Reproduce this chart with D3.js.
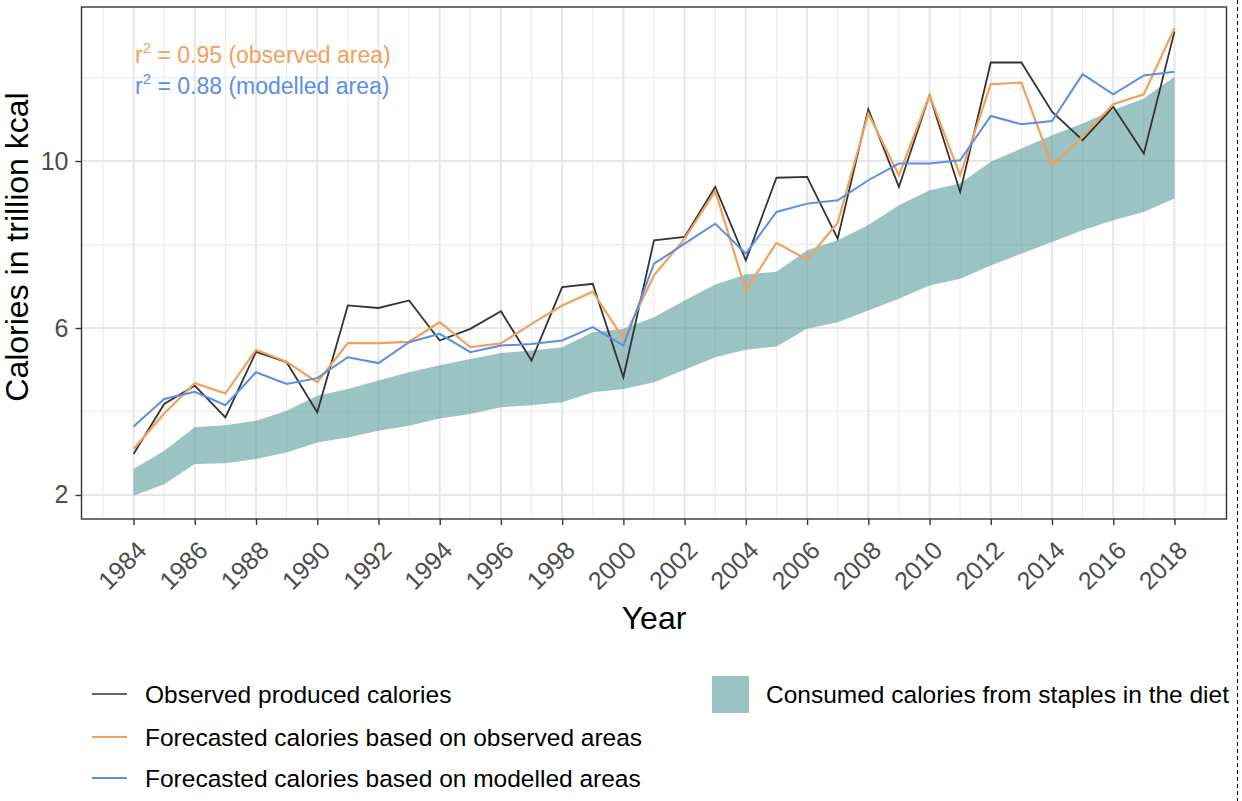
<!DOCTYPE html>
<html>
<head>
<meta charset="utf-8">
<script src="https://cdn.jsdelivr.net/npm/d3@7"></script>
<style>
  html, body { margin: 0; padding: 0; background: #fff; }
  svg { display: block; font-family: "Liberation Sans", Arial, sans-serif; }
</style>
</head>
<body>
<svg id="chart" width="1242" height="801"></svg>
<script>
// Annual calorie series, trillion kcal
const years = d3.range(1984, 2019);

const observed = [2.98, 4.18, 4.62, 3.86, 5.43, 5.18, 3.98, 6.54, 6.48, 6.66,
  5.70, 5.98, 6.40, 5.22, 6.98, 7.06, 4.82, 8.10, 8.18, 9.38,
  7.62, 9.60, 9.62, 8.14, 11.24, 9.38, 11.58, 9.26, 12.36, 12.36,
  11.18, 10.50, 11.30, 10.18, 13.10];

const forecastObserved = [3.10, 3.95, 4.68, 4.43, 5.48, 5.19, 4.70, 5.64, 5.64, 5.67,
  6.14, 5.54, 5.63, 6.10, 6.54, 6.87, 5.74, 7.26, 8.14, 9.28,
  6.90, 8.04, 7.64, 8.52, 11.14, 9.66, 11.58, 9.66, 11.84, 11.88,
  9.90, 10.58, 11.36, 11.60, 13.18];

const forecastModelled = [3.64, 4.30, 4.47, 4.15, 4.94, 4.66, 4.80, 5.30, 5.16, 5.66,
  5.86, 5.42, 5.58, 5.62, 5.70, 6.02, 5.58, 7.54, 8.02, 8.50,
  7.78, 8.78, 8.98, 9.06, 9.54, 9.94, 9.94, 10.02, 11.08, 10.88,
  10.96, 12.08, 11.60, 12.05, 12.14];

const consumedLow = [1.98, 2.26, 2.74, 2.76, 2.86, 3.02, 3.26, 3.38, 3.54, 3.66,
  3.83, 3.94, 4.10, 4.15, 4.22, 4.46, 4.54, 4.70, 5.00, 5.30,
  5.48, 5.56, 5.98, 6.14, 6.42, 6.70, 7.02, 7.18, 7.50, 7.78,
  8.06, 8.34, 8.58, 8.78, 9.10];

const consumedHigh = [2.62, 3.06, 3.62, 3.67, 3.78, 4.02, 4.38, 4.54, 4.74, 4.94,
  5.11, 5.26, 5.40, 5.46, 5.54, 5.90, 5.98, 6.26, 6.66, 7.04,
  7.28, 7.35, 7.86, 8.10, 8.47, 8.94, 9.30, 9.46, 9.98, 10.30,
  10.62, 10.90, 11.22, 11.50, 12.02];

const xTickLabels = d3.range(1984, 2019, 2);
const yTickLabels = [2, 6, 10];
const yMinorTicks = [4, 8, 12];
const xMinorTicks = d3.range(1983, 2020, 2);

const seriesNames = [
  "Observed produced calories",
  "Forecasted calories based on observed areas",
  "Forecasted calories based on modelled areas"
];
const bandName = "Consumed calories from staples in the diet";
const fitLabels = [["0.95", "observed area"], ["0.88", "modelled area"]];

const colBlack = "#333333", colOrange = "#F2A05C", colBlue = "#5B8EE6";
const colBand = "#5F9EA0";

const svg = d3.select("#chart");
const panel = { left: 81.5, right: 1226.5, top: 7, bottom: 519 };

const x = d3.scaleLinear().domain([1982.3, 2019.7]).range([panel.left, panel.right]);
const y = d3.scaleLinear().domain([1.425, 13.69]).range([panel.bottom, panel.top]);

// grid
const grid = svg.append("g");
grid.selectAll(".vminor").data(xMinorTicks).join("line")
  .attr("x1", d => x(d)).attr("x2", d => x(d))
  .attr("y1", panel.top).attr("y2", panel.bottom)
  .attr("stroke", "#ececec").attr("stroke-width", 1.2);
grid.selectAll(".vmajor").data(xTickLabels).join("line")
  .attr("x1", d => x(d)).attr("x2", d => x(d))
  .attr("y1", panel.top).attr("y2", panel.bottom)
  .attr("stroke", "#e6e6e6").attr("stroke-width", 2);
grid.selectAll(".hminor").data(yMinorTicks).join("line")
  .attr("x1", panel.left).attr("x2", panel.right)
  .attr("y1", d => y(d)).attr("y2", d => y(d))
  .attr("stroke", "#ececec").attr("stroke-width", 1.2);
grid.selectAll(".hmajor").data(yTickLabels).join("line")
  .attr("x1", panel.left).attr("x2", panel.right)
  .attr("y1", d => y(d)).attr("y2", d => y(d))
  .attr("stroke", "#e6e6e6").attr("stroke-width", 2);

// consumed band
const bandData = years.map((yr, i) => ({ yr, lo: consumedLow[i], hi: consumedHigh[i] }));
svg.append("path").datum(bandData)
  .attr("d", d3.area().x(d => x(d.yr)).y0(d => y(d.lo)).y1(d => y(d.hi)))
  .attr("fill", colBand).attr("fill-opacity", 0.62);

// lines
const line = d3.line().x(d => x(d[0])).y(d => y(d[1]));
function drawLine(vals, color, w) {
  svg.append("path").datum(years.map((yr, i) => [yr, vals[i]]))
    .attr("d", line).attr("fill", "none")
    .attr("stroke", color).attr("stroke-width", w)
    .attr("stroke-linejoin", "miter");
}
drawLine(observed, colBlack, 1.8);
drawLine(forecastObserved, colOrange, 2.2);
drawLine(forecastModelled, colBlue, 2);

// fit annotations
const notes = svg.append("g").attr("font-size", 23);
[[colOrange, 55], [colBlue, 86]].forEach(([c, yy], i) => {
  const t = notes.append("text").attr("x", 135).attr("y", yy + 8).attr("fill", c);
  t.append("tspan").text("r");
  t.append("tspan").attr("font-size", 15).attr("dy", -10).text("2");
  t.append("tspan").attr("dy", 10).text(" = " + fitLabels[i][0] + " (" + fitLabels[i][1] + ")");
});

// panel border
svg.append("rect")
  .attr("x", panel.left).attr("y", panel.top)
  .attr("width", panel.right - panel.left).attr("height", panel.bottom - panel.top)
  .attr("fill", "none").attr("stroke", "#333").attr("stroke-width", 1.4);

// axes
const yAxis = svg.append("g").attr("transform", `translate(${panel.left},0)`)
  .call(d3.axisLeft(y).tickValues(yTickLabels).tickSize(6).tickPadding(7));
yAxis.select(".domain").remove();
yAxis.selectAll("line").attr("stroke", "#333").attr("stroke-width", 1.4);
yAxis.selectAll("text").attr("font-size", 25).attr("fill", "#4d4d4d")
  .attr("font-family", "'Liberation Sans', Arial, sans-serif");

const xAxis = svg.append("g").attr("transform", `translate(0,${panel.bottom})`)
  .call(d3.axisBottom(x).tickValues(xTickLabels).tickFormat(d3.format("d")).tickSize(6));
xAxis.select(".domain").remove();
xAxis.selectAll("line").attr("stroke", "#333").attr("stroke-width", 1.4);
xAxis.selectAll("text")
  .attr("font-size", 25).attr("fill", "#4d4d4d")
  .attr("font-family", "'Liberation Sans', Arial, sans-serif")
  .attr("text-anchor", "end")
  .attr("y", 0).attr("dy", 0)
  .attr("transform", "translate(14,33) rotate(-45)");

// axis titles
svg.append("text").attr("x", 654).attr("y", 629)
  .attr("text-anchor", "middle").attr("font-size", 32).attr("fill", "#000").text("Year");
svg.append("text")
  .attr("transform", `translate(28,${(panel.top + panel.bottom) / 2 - 16}) rotate(-90)`)
  .attr("text-anchor", "middle").attr("font-size", 32).attr("fill", "#000")
  .text("Calories in trillion kcal");

// legend
const legend = svg.append("g").attr("font-size", 24.5).attr("fill", "#000");
const legendRows = [[colBlack, 1.4, 694], [colOrange, 2, 737], [colBlue, 2, 778]];
legendRows.forEach(([c, w, yy], i) => {
  legend.append("line").attr("x1", 92).attr("x2", 127).attr("y1", yy).attr("y2", yy)
    .attr("stroke", c).attr("stroke-width", w);
  legend.append("text").attr("x", 145).attr("y", yy + 8.5).text(seriesNames[i]);
});
legend.append("rect").attr("x", 712).attr("y", 676).attr("width", 37).attr("height", 37)
  .attr("fill", colBand).attr("fill-opacity", 0.62);
legend.append("text").attr("x", 766).attr("y", 702.5).text(bandName);

// page edge
svg.append("line").attr("x1", 1237.5).attr("x2", 1237.5).attr("y1", 0).attr("y2", 801)
  .attr("stroke", "#000").attr("stroke-width", 1).attr("stroke-dasharray", "4,3");
</script>
</body>
</html>
